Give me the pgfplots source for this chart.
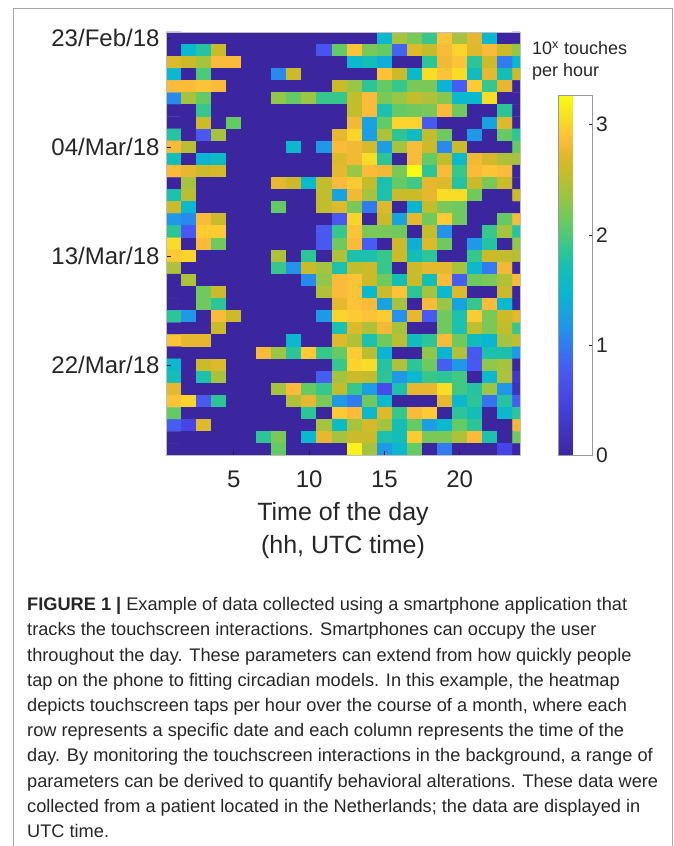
\documentclass[border=0pt]{standalone}
\usepackage{pgfplots}
\pgfplotsset{compat=1.18}
\usepackage{fontspec}
\setmainfont{Liberation Sans}
\definecolor{txt}{rgb}{0.15,0.15,0.15}
\pgfplotsset{
  colormap={parulaish}{
    rgb255(0pt)=(60,38,160)
    rgb255(50pt)=(70,68,228)
    rgb255(78pt)=(72,90,242)
    rgb255(100pt)=(50,122,240)
    rgb255(118pt)=(33,150,234)
    rgb255(148pt)=(10,183,208)
    rgb255(170pt)=(20,190,182)
    rgb255(188pt)=(50,199,145)
    rgb255(210pt)=(100,202,100)
    rgb255(235pt)=(155,197,68)
    rgb255(258pt)=(200,188,42)
    rgb255(273pt)=(226,184,44)
    rgb255(284pt)=(250,186,60)
    rgb255(295pt)=(252,202,50)
    rgb255(305pt)=(248,220,38)
    rgb255(326pt)=(249,251,20)
  }
}
\begin{document}
\begin{tikzpicture}[x=1bp,y=1bp]
\useasboundingbox (0,0) rectangle (674,846);
% frame of the figure
\draw[gray!70, line width=1bp] (13,0) -- (13,837) -- (672,837) -- (672,0);
\begin{axis}[
  at={(166bp,390.3bp)}, anchor=south west,
  scale only axis, width=354bp, height=423.7bp,
  xmin=0.5, xmax=24, ymin=0.5, ymax=35.5, y dir=reverse,
  xtick={5,10,15,20}, ytick={1,10,19,28},
  yticklabels={23/Feb/18,04/Mar/18,13/Mar/18,22/Mar/18},
  tick pos=left, tick align=inside, major tick length=5bp,
  tick style={black!85, line width=0.6bp},
  axis line style={draw=gray!50, line width=0.6bp},
  ticklabel style={font=\fontsize{24bp}{28bp}\selectfont, text=txt},
  xticklabel style={yshift=-12bp},
  yticklabel style={xshift=-3bp},
  /pgf/number format/assume math mode=true,
  xlabel={Time of the day\\(hh, UTC time)},
  xlabel style={at={(axis description cs:0.5,0)}, anchor=north, yshift=-43bp,
    align=center, font=\fontsize{25bp}{33bp}\selectfont, text=txt},
  colormap name=parulaish,
  point meta min=0, point meta max=3.26,
  colorbar,
  colorbar style={
    at={(parent axis.south east)}, anchor=south west, xshift=30bp,
    scale only axis, width=34bp, height=360bp,
    ytick={0,1,2,3}, tick align=inside, major tick length=4bp,
    ytick pos=right, yticklabel pos=right,
    tick style={black!85, line width=0.6bp},
    axis line style={draw=gray!80, line width=0.6bp},
    yticklabel style={font=\fontsize{21bp}{25bp}\selectfont, text=txt},
    /pgf/number format/assume math mode=true,
  },
  axis on top,
]
\addplot[matrix plot*, mesh/cols=24, mesh/rows=35, point meta=\thisrow{v}]
  table[row sep=\\, x expr={mod(\coordindex,24)+1}, y expr={floor((\coordindex+0.5)/24)+1}] {
v\\
0\\0\\0\\0\\0\\0\\0\\0\\0\\0\\0\\0\\0\\0\\1.5\\2.4\\2.2\\1.9\\2.9\\2.4\\2.75\\1.5\\0\\0\\
0\\1.5\\1.8\\2.6\\0\\0\\0\\0\\0\\0\\0.7\\2.1\\2.9\\2.2\\2.1\\0.85\\2.7\\2.55\\2.85\\3.0\\2.7\\2.85\\2.6\\2.3\\
2.7\\2.6\\2.4\\2.85\\2.85\\0\\0\\0\\0\\0\\0\\0\\1.5\\1.7\\1.4\\0\\0\\1.85\\2.8\\2.9\\1.85\\2.6\\1.0\\1.5\\
1.5\\0\\2.0\\0\\0\\0\\0\\1.1\\2.6\\0\\0\\0\\0\\0\\2.9\\2.6\\1.55\\3.05\\2.9\\3.05\\1.65\\2.75\\1.7\\2.6\\
2.85\\2.85\\2.9\\2.85\\0\\0\\0\\0\\0\\0\\0\\2.6\\2.35\\1.85\\2.1\\1.9\\2.2\\2.2\\1.45\\0.8\\2.95\\1.9\\2.75\\0\\
1.1\\2.4\\2.1\\0\\0\\0\\0\\2.3\\2.1\\2.35\\1.9\\1.9\\2.55\\2.85\\2.2\\2.35\\2.55\\2.45\\2.25\\1.5\\1.5\\3.05\\0\\0\\
0\\0\\1.9\\0\\0\\0\\0\\0\\0\\0\\0\\0\\2.55\\2.85\\1.75\\2.1\\2.15\\2.2\\2.85\\2.15\\0\\0\\1.85\\0\\
0\\0\\2.6\\0\\2.1\\0\\0\\0\\0\\0\\0\\0\\2.8\\1.3\\2.1\\3.0\\3.0\\0.75\\0\\0\\0\\1.3\\2.7\\0\\
1.8\\0\\0.75\\2.4\\0\\0\\0\\0\\0\\0\\0\\2.75\\3.0\\1.25\\2.45\\1.85\\1.6\\2.55\\2.15\\0\\1.2\\0\\2.1\\1.85\\
2.85\\2.5\\0\\0\\0\\0\\0\\0\\1.5\\0\\1.2\\2.85\\2.8\\2.65\\1.25\\2.4\\2.85\\2.6\\1.1\\2.6\\0\\0\\0\\2.1\\
1.7\\0\\1.45\\1.6\\0\\0\\0\\0\\0\\0\\0\\2.7\\2.8\\3.05\\1.85\\0\\2.85\\2.1\\2.55\\1.5\\2.8\\2.65\\2.45\\2.4\\
2.85\\2.75\\2.6\\2.65\\0\\0\\0\\0\\0\\0\\0\\2.75\\2.35\\2.85\\2.8\\2.2\\3.25\\1.85\\2.85\\1.9\\2.85\\2.9\\2.85\\0\\
0\\2.4\\0\\0\\0\\0\\0\\2.75\\2.6\\1.5\\2.55\\2.85\\2.95\\2.55\\1.75\\2.1\\1.95\\2.75\\2.7\\1.8\\2.6\\2.2\\2.6\\0\\
1.75\\2.5\\0\\0\\0\\0\\0\\0\\0\\0\\2.55\\1.3\\2.8\\2.4\\1.75\\2.6\\2.6\\2.75\\3.05\\3.05\\2.15\\0\\0\\2.6\\
2.6\\1.5\\0\\0\\0\\0\\0\\2.1\\0\\0\\2.55\\2.7\\2.2\\1.0\\2.7\\0\\1.45\\2.55\\2.2\\2.15\\0\\0\\0\\0\\
1.2\\1.1\\2.85\\2.6\\0\\0\\0\\0\\0\\0\\0\\0.75\\3.0\\0\\2.6\\1.3\\2.75\\2.15\\2.95\\2.15\\0\\0\\2.1\\2.85\\
1.85\\0.75\\2.95\\2.95\\0\\0\\0\\0\\0\\0\\0.75\\1.9\\2.9\\2.2\\2.2\\2.15\\0\\2.55\\1.15\\0\\0\\1.9\\2.4\\1.8\\
3.05\\0\\2.85\\2.15\\0\\0\\0\\0\\0\\0\\0.75\\2.15\\2.85\\0.8\\0\\2.6\\1.4\\2.7\\2.15\\0\\1.2\\1.8\\0\\2.3\\
2.95\\3.0\\0\\0\\0\\0\\0\\2.45\\0\\1.85\\0\\2.45\\1.75\\1.75\\1.9\\2.6\\1.7\\1.85\\0\\0\\1.9\\2.6\\2.55\\2.5\\
2.45\\0\\0\\0\\0\\0\\0\\1.9\\1.15\\2.6\\2.4\\1.75\\2.55\\2.6\\1.9\\0\\2.6\\2.75\\2.75\\2.4\\1.5\\1.0\\2.8\\0\\
0\\2.45\\0\\0\\0\\0\\0\\0\\0\\1.1\\2.3\\2.85\\2.9\\2.6\\2.15\\1.7\\2.6\\1.7\\2.85\\0.8\\2.15\\2.2\\2.45\\2.85\\
0\\0\\2.15\\2.6\\0\\0\\0\\0\\0\\0\\2.45\\2.85\\2.9\\1.5\\2.6\\2.9\\1.85\\2.4\\1.5\\2.7\\0\\0\\2.6\\0\\
0\\0\\2.15\\1.85\\0\\0\\0\\0\\0\\0\\0\\2.75\\2.9\\2.85\\1.3\\2.4\\0\\2.85\\2.35\\1.3\\1.9\\2.85\\1.5\\0\\
1.85\\1.2\\0\\2.85\\2.6\\0\\0\\0\\0\\0\\1.2\\3.0\\2.95\\2.9\\2.95\\1.15\\2.75\\0.75\\2.15\\1.75\\2.95\\2.2\\2.6\\2.75\\
0\\0\\0\\2.6\\0\\0\\0\\0\\0\\0\\0\\1.75\\2.7\\2.45\\2.8\\2.4\\0\\0\\2.15\\1.75\\2.55\\2.2\\2.55\\1.9\\
2.9\\2.75\\2.75\\0\\0\\0\\0\\0\\1.5\\0\\0\\2.7\\2.45\\1.75\\2.15\\2.5\\1.65\\1.85\\2.85\\2.15\\1.65\\1.45\\2.4\\2.55\\
0\\0\\0\\0\\0\\0\\2.85\\2.35\\1.85\\2.95\\1.9\\2.1\\2.95\\2.5\\1.45\\0\\0\\2.3\\1.45\\2.45\\0.75\\1.75\\1.75\\1.2\\
1.5\\0\\2.6\\2.7\\0\\0\\0\\0\\0\\0\\0\\1.9\\3.0\\3.05\\1.8\\2.45\\1.85\\2.15\\0.8\\1.2\\0.75\\2.3\\2.4\\0\\
1.7\\0\\1.75\\2.4\\0\\0\\0\\0\\0\\0\\0.8\\2.4\\2.6\\2.55\\1.85\\1.2\\1.5\\1.9\\1.85\\1.95\\0\\1.5\\2.45\\0.3\\
2.75\\0\\0\\0\\0\\0\\0\\2.4\\2.85\\2.1\\1.9\\2.55\\1.9\\1.25\\0.6\\1.75\\2.75\\2.75\\3.05\\1.95\\1.8\\2.35\\1.2\\0.2\\
2.9\\3.0\\0.75\\1.85\\0\\0\\0\\0\\2.45\\2.75\\2.2\\1.2\\1.0\\2.15\\1.5\\0\\0\\0\\2.75\\1.5\\1.85\\0.95\\1.8\\0.8\\
2.1\\0\\0\\0\\0\\0\\0\\0\\0\\1.85\\0\\2.95\\2.85\\1.5\\2.7\\1.9\\2.85\\2.95\\0\\1.85\\1.7\\0\\1.5\\1.85\\
0.8\\0.5\\2.7\\0\\0\\0\\0\\0\\0\\0\\2.4\\1.6\\2.4\\2.65\\2.4\\1.7\\2.1\\1.25\\1.5\\2.1\\1.85\\0\\0\\2.8\\
0\\0\\0\\0\\0\\0\\1.85\\2.2\\0\\1.5\\2.75\\2.4\\2.6\\2.6\\1.75\\1.7\\2.95\\2.2\\2.2\\2.45\\2.85\\1.75\\0\\2.15\\
0\\0\\0\\0\\0\\0\\0\\2.1\\0\\0\\0\\0\\3.2\\2.4\\1.2\\1.5\\2.1\\0\\1.0\\0\\0\\0\\0.5\\0\\
};
\end{axis}
% colorbar title
\node[anchor=base west, inner sep=0, text=txt, font=\fontsize{18bp}{22bp}\selectfont] at (532,791) {10\textsuperscript{x} touches};
\node[anchor=base west, inner sep=0, text=txt, font=\fontsize{18bp}{22bp}\selectfont] at (532,769) {per hour};
% caption
\begin{scope}[every node/.style={anchor=base west, inner sep=0, text=txt, font=\fontsize{18.2bp}{21bp}\selectfont}]
\node at (27,235.3) {\textbf{FIGURE 1 |} Example of data collected using a smartphone application that};
\node at (27,210.1) {tracks the touchscreen interactions. Smartphones can occupy the user};
\node at (27,184.9) {throughout the day. These parameters can extend from how quickly people};
\node at (27,159.7) {tap on the phone to fitting circadian models. In this example, the heatmap};
\node at (27,134.5) {depicts touchscreen taps per hour over the course of a month, where each};
\node at (27,109.3) {row represents a specific date and each column represents the time of the};
\node at (27,84.1) {day. By monitoring the touchscreen interactions in the background, a range of};
\node at (27,58.9) {parameters can be derived to quantify behavioral alterations. These data were};
\node at (27,33.7) {collected from a patient located in the Netherlands; the data are displayed in};
\node at (27,8.5) {UTC time.};
\end{scope}
\end{tikzpicture}
\end{document}
